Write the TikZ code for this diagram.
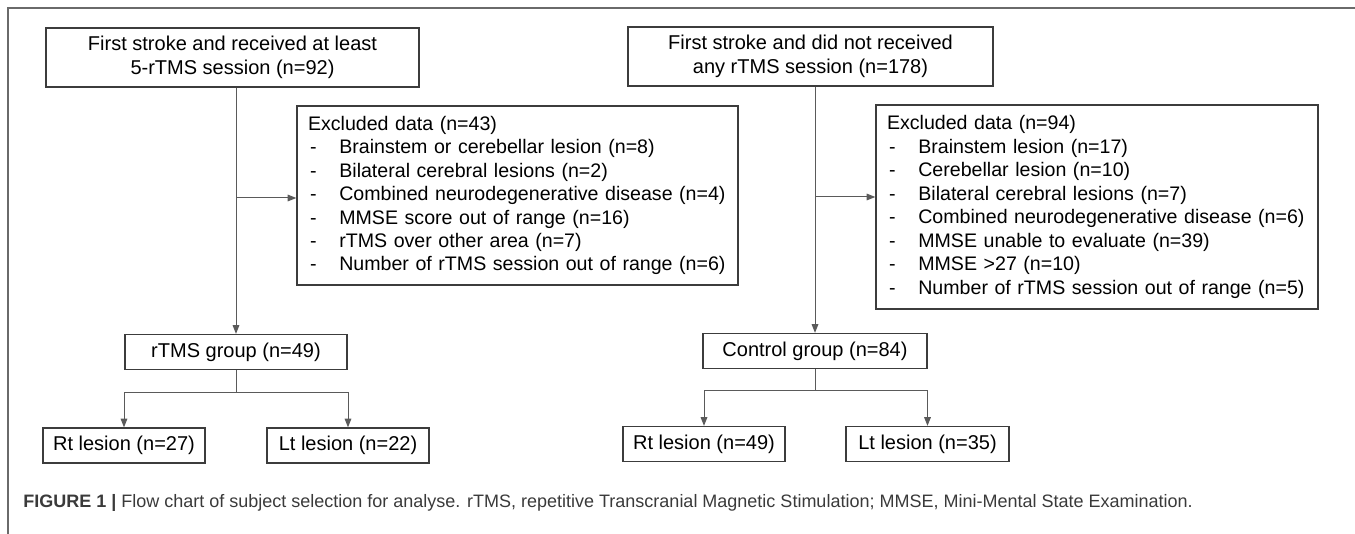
\documentclass[tikz,border=0pt]{standalone}
\usepackage{fontspec}
\setmainfont{Liberation Sans}
\usetikzlibrary{arrows.meta}
\definecolor{boxgray}{HTML}{3C3C3C}
\definecolor{linegray}{HTML}{5A5A5A}
\definecolor{framegray}{HTML}{6A6A6A}
\definecolor{capgray}{HTML}{3A3A3A}
\newcommand{\exitem}[1]{\mbox{\makebox[23.5pt][l]{\hspace{1.5pt}-}#1}}

\begin{document}
\begin{tikzpicture}[x=0.75pt,y=-0.75pt,
		box/.style={draw=boxgray,line width=1pt,inner sep=0pt,align=center,font=\fontsize{15}{18}\selectfont},
		exclbox/.style={box,align=left,inner xsep=8.25pt,font=\fontsize{14.7}{17.6}\selectfont},
		conn/.style={draw=linegray,line width=0.75pt},
		arr/.style={conn,-{Triangle[length=6.5pt,width=5pt]}}]
		\useasboundingbox (0,0) rectangle (1355,534);
		\draw[framegray,line width=1pt] (8,534) -- (8,8) -- (1355,8);
		
		\node[box,minimum width=279.75pt,minimum height=44.25pt] (first1) at (232.5,57.5) {First stroke and received at least\\5-rTMS session (n=92)};
		\node[box,minimum width=273.75pt,minimum height=44.25pt] (first2) at (810.5,56.5) {First stroke and did not received\\any rTMS session (n=178)};
		
		\node[exclbox,text width=314.25pt,minimum height=134.25pt] (excl1) at (517.5,195.5) {Excluded data (n=43)\\
			\exitem{Brainstem or cerebellar lesion (n=8)}\\
			\exitem{Bilateral cerebral lesions (n=2)}\\
			\exitem{Combined neurodegenerative disease (n=4)}\\
			\exitem{MMSE score out of range (n=16)}\\
			\exitem{rTMS over other area (n=7)}\\
			\exitem{Number of rTMS session out of range (n=6)}};
		\node[exclbox,text width=315pt,minimum height=153pt] (excl2) at (1097,207) {Excluded data (n=94)\\
			\exitem{Brainstem lesion (n=17)}\\
			\exitem{Cerebellar lesion (n=10)}\\
			\exitem{Bilateral cerebral lesions (n=7)}\\
			\exitem{Combined neurodegenerative disease (n=6)}\\
			\exitem{MMSE unable to evaluate (n=39)}\\
			\exitem{MMSE >27 (n=10)}\\
			\exitem{Number of rTMS session out of range (n=5)}};
		
		\node[box,minimum width=166.5pt,minimum height=26.25pt] (rtms) at (236,352) {rTMS group (n=49)};
		\node[box,minimum width=168pt,minimum height=26.25pt] (ctrl) at (815,351) {Control group (n=84)};
		
		\node[box,minimum width=121.5pt,minimum height=26.25pt] (rt1) at (124,445.5) {Rt lesion (n=27)};
		\node[box,minimum width=121.5pt,minimum height=26.25pt] (lt1) at (348,445.5) {Lt lesion (n=22)};
		\node[box,minimum width=121.5pt,minimum height=26.25pt] (rt2) at (704,444) {Rt lesion (n=49)};
		\node[box,minimum width=122.25pt,minimum height=26.25pt] (lt2) at (927.5,444) {Lt lesion (n=35)};
		
		\coordinate (out1) at (236,198);
		\coordinate (out2) at (815,197);
		\coordinate (fork1) at (236,392);
		\coordinate (fork2) at (815,390);
		
		\draw[arr] (rtms.north |- first1.south) -- (rtms.north);
		\draw[arr] (out1) -- (out1 -| excl1.west);
		\draw[arr] (ctrl.north |- first2.south) -- (ctrl.north);
		\draw[arr] (out2) -- (out2 -| excl2.west);
		
		\draw[conn] (rtms.south) -- (fork1);
		\draw[conn] (fork1 -| rt1.north) -- (fork1 -| lt1.north);
		\draw[arr] (fork1 -| rt1.north) -- (rt1.north);
		\draw[arr] (fork1 -| lt1.north) -- (lt1.north);
		\draw[conn] (ctrl.south) -- (fork2);
		\draw[conn] (fork2 -| rt2.north) -- (fork2 -| lt2.north);
		\draw[arr] (fork2 -| rt2.north) -- (rt2.north);
		\draw[arr] (fork2 -| lt2.north) -- (lt2.north);
		
		\node[anchor=west,inner sep=0pt,text=capgray,font=\fontsize{13.5}{16}\selectfont] (caption) at (23,503) {\textbf{FIGURE 1 |} Flow chart of subject selection for analyse. rTMS, repetitive Transcranial Magnetic Stimulation; MMSE, Mini-Mental State Examination.};
\end{tikzpicture}
\end{document}
